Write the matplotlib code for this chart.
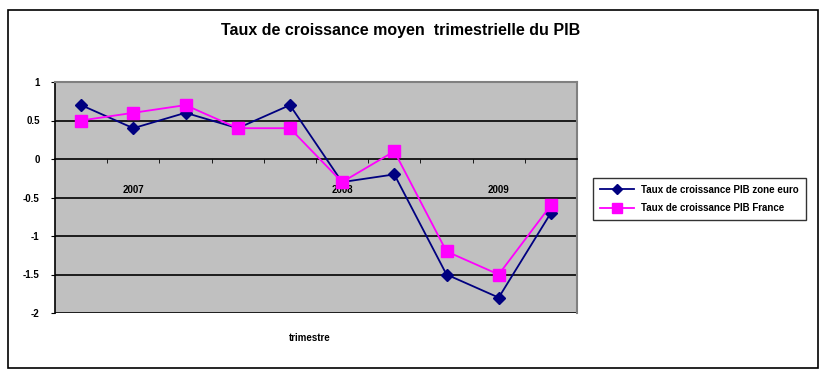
import matplotlib
matplotlib.use("Agg")
import matplotlib.pyplot as plt
from matplotlib import font_manager as fm
from matplotlib.patches import Rectangle

categories = ["T1", "T2", "T3", "T4", "T5", "T6", "T7", "T8", "T9", "T10"]
cat_labels = ["", "2007", "", "", "", "2008", "", "", "2009", ""]
zone_euro = [0.7, 0.4, 0.6, 0.4, 0.7, -0.3, -0.2, -1.5, -1.8, -0.7]
france = [0.5, 0.6, 0.7, 0.4, 0.4, -0.3, 0.1, -1.2, -1.5, -0.6]
series_names = ["Taux de croissance PIB zone euro", "Taux de croissance PIB France"]
title = "Taux de croissance moyen  trimestrielle du PIB"
xlabel = "trimestre"
yticks = [-2, -1.5, -1, -0.5, 0, 0.5, 1]

names = {f.name for f in fm.fontManager.ttflist}
fam = "Liberation Sans Narrow" if "Liberation Sans Narrow" in names else "Liberation Sans"
plt.rcParams['font.family'] = [fam, 'DejaVu Sans']

fig = plt.figure(figsize=(8.27, 3.77), dpi=100)
fig.patches.append(Rectangle((8/827, 1-368/377), (818-8)/827, (368-10)/377,
                             transform=fig.transFigure, fill=False, ec='black', lw=1.2))

ax = fig.add_axes([55/827, 1-313/377, 522/827, 231/377])
ax.set_facecolor('#C0C0C0')
n = len(categories)
x = [i + 0.5 for i in range(n)]
ax.set_xlim(0, n)
ax.set_ylim(-2, 1)

for yv in yticks:
    if yv not in (0, 1):
        ax.axhline(yv, color='black', lw=1.2, zorder=1)

ax.plot(x, zone_euro, color='#000080', marker='D', markersize=6.5, lw=1.3,
        label=series_names[0], zorder=3)
ax.plot(x, france, color='#FF00FF', marker='s', markersize=8.5, lw=1.3,
        label=series_names[1], zorder=3)

ax.spines['bottom'].set_position(('data', 0))
ax.spines['bottom'].set_color('black')
ax.spines['bottom'].set_linewidth(1.2)
ax.spines['left'].set_color('black')
ax.spines['left'].set_linewidth(1.2)
for s in ('top', 'right'):
    ax.spines[s].set_color('#808080')
    ax.spines[s].set_linewidth(1.5)

ax.set_xticks(range(1, n), minor=True)
ax.set_xticks(x)
ax.set_xticklabels(cat_labels, fontsize=7, fontweight='bold')
ax.tick_params(axis='x', which='major', length=0, pad=19)
ax.tick_params(axis='x', which='minor', length=3, direction='out', color='black')
ax.set_yticks(yticks)
ax.set_yticklabels([f"{v:g}" for v in yticks], fontsize=7, fontweight='bold')
ax.tick_params(axis='y', length=3, direction='out', pad=8)

fig.text(310/827, 1-338/377, xlabel, ha='center', va='center', fontsize=7, fontweight='bold')
fig.text(401/827, 1-30/377, title, ha='center', va='center', fontsize=11.5, fontweight='bold')

leg = fig.legend(loc='upper left', bbox_to_anchor=(588/827, 1-173/377), frameon=True,
                 fancybox=False, edgecolor='black', prop={'weight': 'bold', 'size': 7},
                 handlelength=3.5, borderpad=0.7, labelspacing=0.9, markerscale=0.8)
leg.get_frame().set_linewidth(1.0)

fig.savefig("out.png", dpi=100, facecolor='white')
